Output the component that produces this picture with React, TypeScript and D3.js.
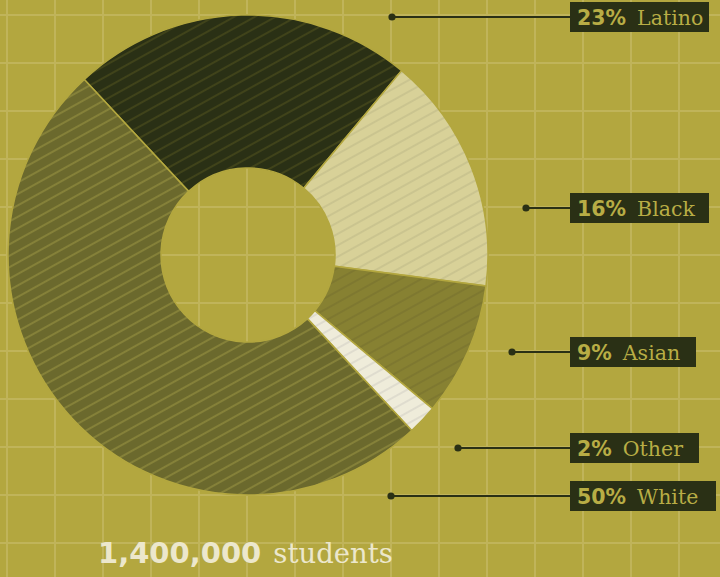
import React from "react";
import * as d3 from "d3";

const categories = ["Latino", "Black", "Asian", "Other", "White"];
const shares = [23, 16, 9, 2, 50];
const totalLabel = "1,400,000";
const totalUnit = "students";

const W = 720;
const H = 577;
const BG = "#b3a73f";
const GRID = "#c0b45a";
const DARK = "#2a3015";
const fills: Record<string, string> = {
  Latino: "#2a3015",
  Black: "#d8d198",
  Asian: "#878132",
  Other: "#efecda",
  White: "#6b692d",
};
const hatches: Record<string, string> = {
  Latino: "#55551f",
  Black: "#bdb787",
  Asian: "#75702d",
  Other: "#cfcdc2",
  White: "#9f9944",
};
// label layout: leader dot x, box centre y, box width
const labelLayout: Record<string, { dotX: number; cy: number; boxW: number }> = {
  Latino: { dotX: 392, cy: 17, boxW: 139 },
  Black: { dotX: 526, cy: 208, boxW: 139 },
  Asian: { dotX: 512, cy: 352, boxW: 126 },
  Other: { dotX: 458, cy: 448, boxW: 129 },
  White: { dotX: 391, cy: 496, boxW: 146 },
};

export default function App() {
  const cx = 248;
  const cy = 255;
  const outerR = 240;
  const innerR = 87;
  const start = (-43 * Math.PI) / 180;

  const pie = d3
    .pie<number>()
    .sort(null)
    .value((d) => d)
    .startAngle(start)
    .endAngle(start + 2 * Math.PI);
  const arcs = pie(shares);
  const arcGen = d3.arc<d3.PieArcDatum<number>>().innerRadius(innerR).outerRadius(outerR);

  const xs = d3.range(7, W + 1, 48);
  const ys = d3.range(15, H + 1, 48);
  const boxX = 570;

  return (
    <svg
      width={W}
      height={H}
      style={{ position: "absolute", left: 0, top: 0, display: "block" }}
    >
      <defs>
        {categories.map((c) => (
          <pattern
            key={c}
            id={`hatch-${c}`}
            patternUnits="userSpaceOnUse"
            width={40}
            height={10}
            patternTransform="rotate(-29)"
          >
            <rect width={40} height={10} fill={fills[c]} />
            <line x1={0} x2={40} y1={5} y2={5} stroke={hatches[c]} strokeWidth={1.1} />
          </pattern>
        ))}
      </defs>
      <rect width={W} height={H} fill={BG} />
      <g>
        {xs.map((x) => (
          <line key={`v${x}`} x1={x} x2={x} y1={0} y2={H} stroke={GRID} strokeWidth={2} />
        ))}
        {ys.map((y) => (
          <line key={`h${y}`} x1={0} x2={W} y1={y} y2={y} stroke={GRID} strokeWidth={2} />
        ))}
      </g>
      <g transform={`translate(${cx},${cy})`}>
        {arcs.map((a, i) => (
          <path
            key={categories[i]}
            d={arcGen(a) || ""}
            fill={`url(#hatch-${categories[i]})`}
            stroke={BG}
            strokeWidth={1.5}
          />
        ))}
      </g>
      {categories.map((c, i) => {
        const L = labelLayout[c];
        return (
          <g key={`lab-${c}`}>
            <line x1={L.dotX} x2={boxX} y1={L.cy} y2={L.cy} stroke={DARK} strokeWidth={2} />
            <circle cx={L.dotX} cy={L.cy} r={3.6} fill={DARK} />
            <rect x={boxX} y={L.cy - 15} width={L.boxW} height={30} fill={DARK} />
            <text x={boxX + 7} y={L.cy + 8} fill="#b8ad45">
              <tspan fontFamily="'DejaVu Sans', sans-serif" fontWeight="bold" fontSize={20.5}>
                {`${shares[i]}%`}
              </tspan>
              <tspan dx={11} fontFamily="'DejaVu Serif', serif" fontSize={20.5}>
                {c}
              </tspan>
            </text>
          </g>
        );
      })}
      <text x={98} y={563} fill="#ece7cc">
        <tspan fontFamily="'DejaVu Sans', sans-serif" fontWeight="bold" fontSize={29}>
          {totalLabel}
        </tspan>
        <tspan dx={12} fontFamily="'DejaVu Serif', serif" fontSize={27.5}>
          {totalUnit}
        </tspan>
      </text>
    </svg>
  );
}
